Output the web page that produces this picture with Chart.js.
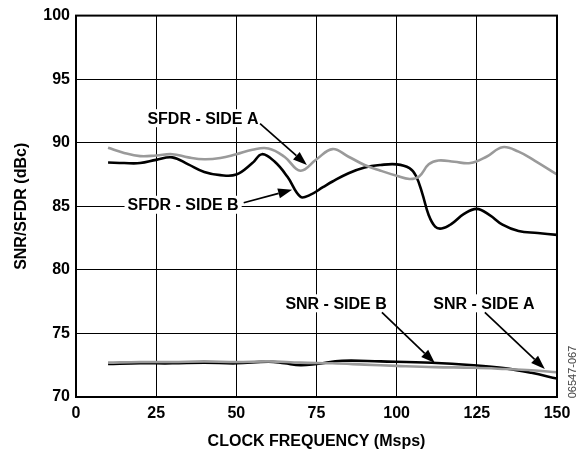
<!DOCTYPE html>
<html>
<head>
<meta charset="utf-8">
<script src="https://cdn.jsdelivr.net/npm/chart.js@4.4.1/dist/chart.umd.min.js"></script>
<style>
  html, body { margin:0; padding:0; background:#fff; }
  canvas { display:block; }
</style>
</head>
<body>
<canvas id="chart" width="582" height="452"></canvas>
<script>
// x ticks / axis
const xTicks = [0, 25, 50, 75, 100, 125, 150];
const yTicks = [70, 75, 80, 85, 90, 95, 100];

// SFDR - side A (gray)
const sfdrAFreq = [10, 15, 20, 25, 30, 35, 40, 45, 50, 55, 60, 65, 70, 75, 80, 85, 90, 95, 100, 104, 107, 110, 113, 118, 123, 128, 133, 138, 143, 150];
const sfdrAVal  = [89.6, 89.2, 88.95, 89.0, 89.1, 88.85, 88.7, 88.8, 89.1, 89.45, 89.55, 88.9, 87.8, 88.7, 89.5, 88.9, 88.25, 87.8, 87.4, 87.15, 87.35, 88.3, 88.6, 88.5, 88.4, 88.9, 89.65, 89.3, 88.6, 87.5];

// SFDR - side B (black)
const sfdrBFreq = [10, 15, 20, 25, 30, 35, 40, 45, 50, 55, 58, 62, 66, 70, 73, 77, 80, 85, 90, 95, 100, 104, 106, 108, 110, 112, 114, 117, 121, 125, 129, 133, 138, 144, 150];
const sfdrBVal  = [88.45, 88.4, 88.4, 88.65, 88.85, 88.3, 87.7, 87.45, 87.5, 88.4, 89.1, 88.5, 87.3, 85.75, 85.9, 86.5, 86.95, 87.6, 88.05, 88.25, 88.3, 88.0, 87.4, 86.0, 84.3, 83.4, 83.25, 83.6, 84.4, 84.8, 84.3, 83.55, 83.05, 82.9, 82.75];

// SNR - side A (gray)
const snrAFreq = [10, 20, 30, 40, 50, 60, 70, 80, 90, 100, 112, 124, 134, 142, 150];
const snrAVal  = [72.7, 72.75, 72.75, 72.8, 72.75, 72.8, 72.7, 72.65, 72.55, 72.45, 72.35, 72.3, 72.2, 72.1, 71.95];

// SNR - side B (black)
const snrBFreq = [10, 20, 30, 40, 50, 60, 65, 70, 75, 83, 95, 111, 124, 134, 142, 150];
const snrBVal  = [72.6, 72.65, 72.65, 72.7, 72.65, 72.78, 72.65, 72.5, 72.6, 72.85, 72.8, 72.7, 72.5, 72.25, 71.9, 71.45];

// callouts: label, text centre (freq, dB), arrow start, arrow tip
const callouts = [
  { text: "SFDR - SIDE A", at: [39.6, 91.93], from: [57.4, 91.5], to: [72.0, 88.25] },
  { text: "SFDR - SIDE B", at: [33.4, 85.12], from: [52.3, 85.28], to: [67.4, 86.3] },
  { text: "SNR - SIDE B",  at: [81.1, 77.37], from: [95.4, 76.66], to: [111.9, 72.67] },
  { text: "SNR - SIDE A",  at: [127.2, 77.37], from: [127.5, 76.66], to: [146.2, 72.2] }
];

const FONT = "'Liberation Sans', Arial, Helvetica, sans-serif";
const GRAY = "#9a9a9a";

function pts(xs, ys){ return xs.map((x,i) => ({x, y: ys[i]})); }

function line(label, xs, ys, color){
  return { label, data: pts(xs, ys), borderColor: color, borderWidth: 2.6,
           pointRadius: 0, tension: 0.4, fill: false };
}

const frame = {
  id: "frame",
  afterDatasetsDraw(chart){
    const {ctx, chartArea:a} = chart;
    ctx.save();
    ctx.strokeStyle = "#000"; ctx.lineWidth = 2;
    ctx.strokeRect(a.left, a.top, a.right-a.left, a.bottom-a.top);
    ctx.restore();
  }
};

const calloutPlugin = {
  id: "callouts",
  afterDatasetsDraw(chart){
    const {ctx} = chart;
    const xs = chart.scales.x, ys = chart.scales.y;
    ctx.save();
    ctx.font = "bold 16px " + FONT;
    ctx.textAlign = "center"; ctx.textBaseline = "middle";
    callouts.forEach(c => {
      const tx = xs.getPixelForValue(c.at[0]), ty = ys.getPixelForValue(c.at[1]);
      const w = ctx.measureText(c.text).width;
      ctx.fillStyle = "#fff";
      ctx.fillRect(tx - w/2 - 3, ty - 9, w + 6, 18);
      ctx.fillStyle = "#000";
      ctx.fillText(c.text, tx, ty + 1);
      // arrow
      const x1 = xs.getPixelForValue(c.from[0]), y1 = ys.getPixelForValue(c.from[1]);
      const x2 = xs.getPixelForValue(c.to[0]),   y2 = ys.getPixelForValue(c.to[1]);
      const ang = Math.atan2(y2-y1, x2-x1), hl = 14, hw = 5;
      ctx.strokeStyle = "#000"; ctx.lineWidth = 1.7;
      ctx.beginPath(); ctx.moveTo(x1, y1);
      ctx.lineTo(x2 - hl*Math.cos(ang), y2 - hl*Math.sin(ang)); ctx.stroke();
      ctx.beginPath();
      ctx.moveTo(x2, y2);
      ctx.lineTo(x2 - hl*Math.cos(ang) - hw*Math.sin(ang), y2 - hl*Math.sin(ang) + hw*Math.cos(ang));
      ctx.lineTo(x2 - hl*Math.cos(ang) + hw*Math.sin(ang), y2 - hl*Math.sin(ang) - hw*Math.cos(ang));
      ctx.closePath(); ctx.fill();
    });
    // figure number
    ctx.font = "11px " + FONT;
    ctx.fillStyle = "#444";
    ctx.translate(573, 372); ctx.rotate(-Math.PI/2);
    ctx.fillText("06547-067", 0, 0);
    ctx.restore();
  }
};

new Chart(document.getElementById("chart").getContext("2d"), {
  type: "line",
  data: { datasets: [
    line("SFDR - SIDE A", sfdrAFreq, sfdrAVal, GRAY),
    line("SNR - SIDE A",  snrAFreq,  snrAVal,  GRAY),
    line("SFDR - SIDE B", sfdrBFreq, sfdrBVal, "#000"),
    line("SNR - SIDE B",  snrBFreq,  snrBVal,  "#000")
  ]},
  options: {
    responsive: false, animation: false, devicePixelRatio: 1,
    layout: { padding: { left: 0, right: 25, top: 14, bottom: 0 } },
    plugins: { legend: { display: false }, tooltip: { enabled: false } },
    scales: {
      x: {
        type: "linear", min: 0, max: 150,
        afterBuildTicks: s => { s.ticks = xTicks.map(v => ({value: v})); },
        afterFit: s => { s.height = 55; },
        ticks: { color: "#000", padding: 7, font: { family: FONT, size: 16, weight: "bold" } },
        grid: { color: "#000", lineWidth: 1, drawTicks: false },
        border: { color: "#000", width: 2 },
        title: { display: true, text: "CLOCK FREQUENCY (Msps)", color: "#000",
                 padding: { top: 4, bottom: 1 }, font: { family: FONT, size: 16, weight: "bold" } }
      },
      y: {
        min: 70, max: 100,
        afterBuildTicks: s => { s.ticks = yTicks.map(v => ({value: v})); },
        afterFit: s => { s.width = 76; },
        ticks: { color: "#000", padding: 6, font: { family: FONT, size: 16, weight: "bold" } },
        grid: { color: "#000", lineWidth: 1, drawTicks: false },
        border: { color: "#000", width: 2 },
        title: { display: true, text: "SNR/SFDR (dBc)", color: "#000",
                 padding: { top: 12, bottom: 4 }, font: { family: FONT, size: 16, weight: "bold" } }
      }
    }
  },
  plugins: [frame, calloutPlugin]
});
</script>
</body>
</html>
